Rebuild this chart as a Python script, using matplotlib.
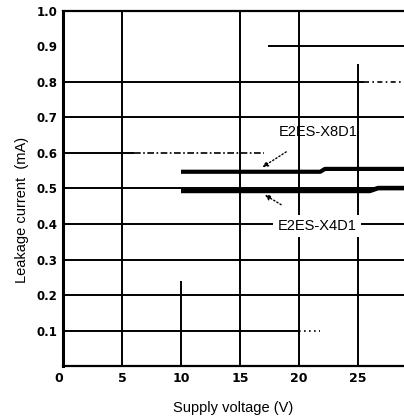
import matplotlib.pyplot as plt
import numpy as np

plt.rcParams['font.family'] = ['Liberation Sans', 'DejaVu Sans']

# данные
v_x8 = [10, 21.8, 22.2, 29]
i_x8 = [0.547, 0.547, 0.555, 0.555]
v_x4 = [10, 26.0, 26.7, 29]
i_x4 = [0.493, 0.493, 0.501, 0.501]
x_ticks = [0, 5, 10, 15, 20, 25]
y_ticks = [0.1, 0.2, 0.3, 0.4, 0.5, 0.6, 0.7, 0.8, 0.9, 1.0]

fig = plt.figure(figsize=(4.04, 4.16), dpi=100)
ax = fig.add_axes([0.156, 0.12, 0.844, 0.854])

# сетка (как на скане, с пропусками)
gk = dict(color='black', lw=1.4, zorder=1)
for y in y_ticks:
    if y == 0.9:
        ax.hlines(y, 17.4, 29, **gk)
    elif y == 0.6:
        ax.hlines(y, 0, 6, **gk)
        ax.hlines(y, 6, 17, color='black', lw=1.2, linestyles=(0, (4, 1.5, 1, 1.5)), zorder=1)
    elif y == 0.8:
        ax.hlines(y, 0, 25.5, **gk)
        ax.hlines(y, 25.5, 29, color='black', lw=1.2, linestyles=(0, (3, 2, 1, 2)), zorder=1)
    elif y == 0.1:
        ax.hlines(y, 0, 20, **gk)
        ax.hlines(y, 20, 21.8, color='black', lw=1.2, linestyles=(0, (1, 2)), zorder=1)
    elif y == 1.0:
        pass
    else:
        ax.hlines(y, 0, 29, **gk)
for x in [5, 15, 20]:
    ax.vlines(x, 0, 1.0, **gk)
ax.vlines(10, 0, 0.24, **gk)
ax.vlines(25, 0, 0.85, **gk)

# кривые
ax.plot(v_x8, i_x8, color='black', lw=3, solid_capstyle='butt', zorder=3)
ax.plot(v_x4, i_x4, color='black', lw=3.3, solid_capstyle='butt', zorder=3)

# подписи
ax.annotate('E2ES-X8D1', xy=(16.9, 0.56), xytext=(21.6, 0.66),
            ha='center', va='center', fontsize=10.5,
            arrowprops=dict(arrowstyle='-|>', color='black', lw=1,
                            linestyle=':', shrinkA=14, shrinkB=0, mutation_scale=8))
ax.annotate('E2ES-X4D1', xy=(17.1, 0.482), xytext=(21.5, 0.394),
            ha='center', va='center', fontsize=10.5,
            bbox=dict(boxstyle='square,pad=0.3', fc='white', ec='none'),
            arrowprops=dict(arrowstyle='-|>', color='black', lw=1,
                            linestyle=':', shrinkA=14, shrinkB=0, mutation_scale=8))

# оси
ax.spines['right'].set_visible(False)
ax.spines['left'].set_linewidth(2.2)
ax.spines['bottom'].set_linewidth(1.6)
ax.spines['top'].set_linewidth(1.6)

ax.set_xticks(x_ticks)
ax.set_xticklabels([str(t) for t in x_ticks], fontsize=9, fontweight='bold', family='DejaVu Sans')
ax.set_yticks(y_ticks)
ax.set_yticklabels(['%.1f' % t for t in y_ticks], fontsize=8.5, fontweight='bold', family='DejaVu Sans')
ax.tick_params(length=0, pad=4)
ax.get_xticklabels()[0].set_horizontalalignment('right')
ax.set_xlim(0, 28.9)
ax.set_ylim(0, 1.0)
# обрезанная метка 30 у правого края
ax.text(30, -0.035, '30', ha='center', va='center', fontsize=9, fontweight='bold',
        family='DejaVu Sans', clip_on=False)

ax.set_xlabel('Supply voltage (V)', fontsize=10.5, labelpad=12)
ax.set_ylabel('Leakage current  (mA)', fontsize=10.5)
ax.yaxis.set_label_coords(-0.1, 0.44)

plt.savefig('out.png', dpi=100)
